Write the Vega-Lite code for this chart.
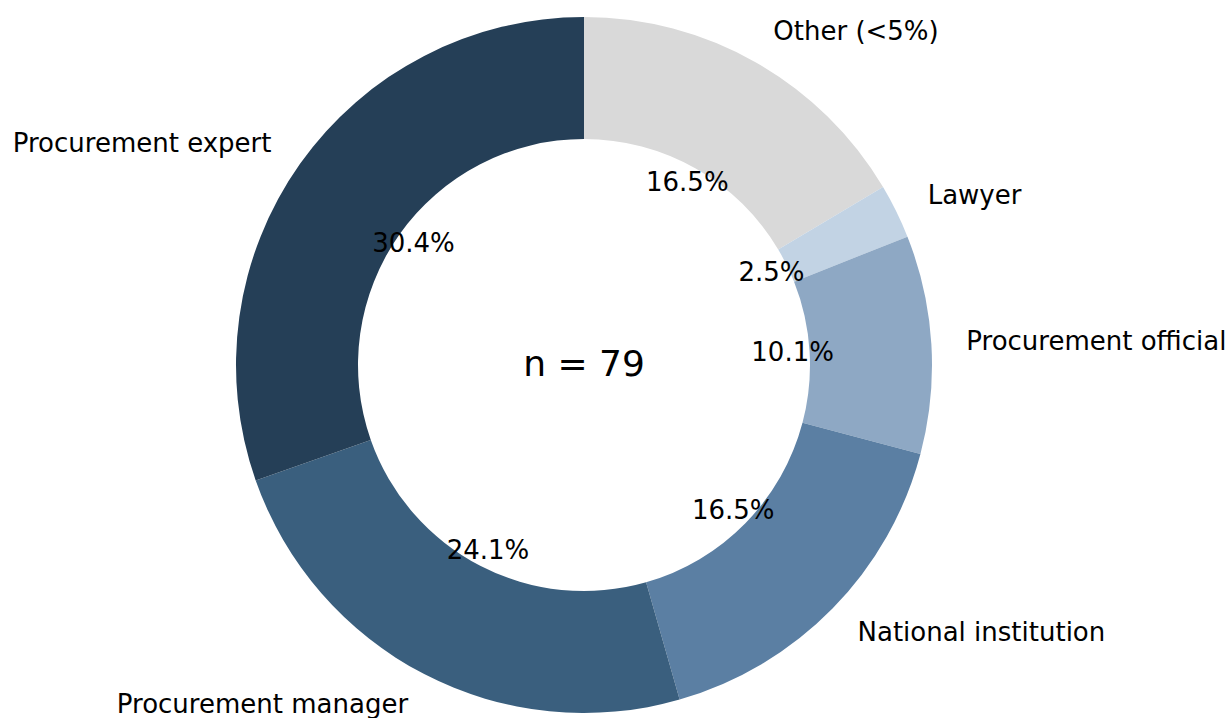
{
  "$schema": "https://vega.github.io/schema/vega-lite/v6.json",
  "width": 1168,
  "height": 706,
  "autosize": {"type": "none"},
  "padding": {"left": 0, "top": 12, "right": 63, "bottom": 0},
  "background": "white",
  "config": {"view": {"stroke": null}, "text": {"font": "DejaVu Sans"}},
  "data": {"values": [
    {"role": "Other (<5%)", "count": 13, "pct": 0.165},
    {"role": "Lawyer", "count": 2, "pct": 0.025},
    {"role": "Procurement official", "count": 8, "pct": 0.101},
    {"role": "National institution", "count": 13, "pct": 0.165},
    {"role": "Procurement manager", "count": 19, "pct": 0.241},
    {"role": "Procurement expert", "count": 24, "pct": 0.304}
  ]},
  "transform": [{"window": [{"op": "row_number", "as": "idx"}]}],
  "encoding": {
    "theta": {"field": "count", "type": "quantitative", "stack": true},
    "order": {"field": "idx", "type": "quantitative"}
  },
  "layer": [
    {
      "mark": {"type": "arc", "radius": 348, "radius2": 226, "stroke": null},
      "encoding": {
        "color": {
          "field": "role", "type": "nominal", "legend": null,
          "scale": {
            "domain": ["Procurement expert", "Procurement manager", "National institution", "Procurement official", "Lawyer", "Other (<5%)"],
            "range": ["#253f57", "#3a5f7e", "#5b7fa3", "#8ea8c4", "#c2d3e4", "#d9d9d9"]
          }
        }
      }
    },
    {
      "mark": {"type": "text", "radius": 209, "fontSize": 26, "color": "#000000", "align": "center", "baseline": "middle"},
      "encoding": {"text": {"field": "pct", "type": "quantitative", "format": ".1%"}}
    },
    {
      "mark": {"type": "text", "radius": 383, "fontSize": 26, "color": "#000000", "align": "right", "baseline": "middle"},
      "encoding": {"text": {"condition": {"test": "indexof(['Procurement expert','Procurement manager'], datum.role) >= 0", "field": "role", "type": "nominal"}, "value": ""}}
    },
    {
      "mark": {"type": "text", "radius": 383, "fontSize": 26, "color": "#000000", "align": "left", "baseline": "middle"},
      "encoding": {"text": {"condition": {"test": "indexof(['Procurement expert','Procurement manager'], datum.role) < 0", "field": "role", "type": "nominal"}, "value": ""}}
    },
    {
      "data": {"values": [{"label": "n = 79"}]},
      "transform": [],
      "mark": {"type": "text", "fontSize": 36, "color": "#000000", "align": "center", "baseline": "middle"},
      "encoding": {"text": {"field": "label", "type": "nominal"}, "theta": null, "order": null}
    }
  ]
}
